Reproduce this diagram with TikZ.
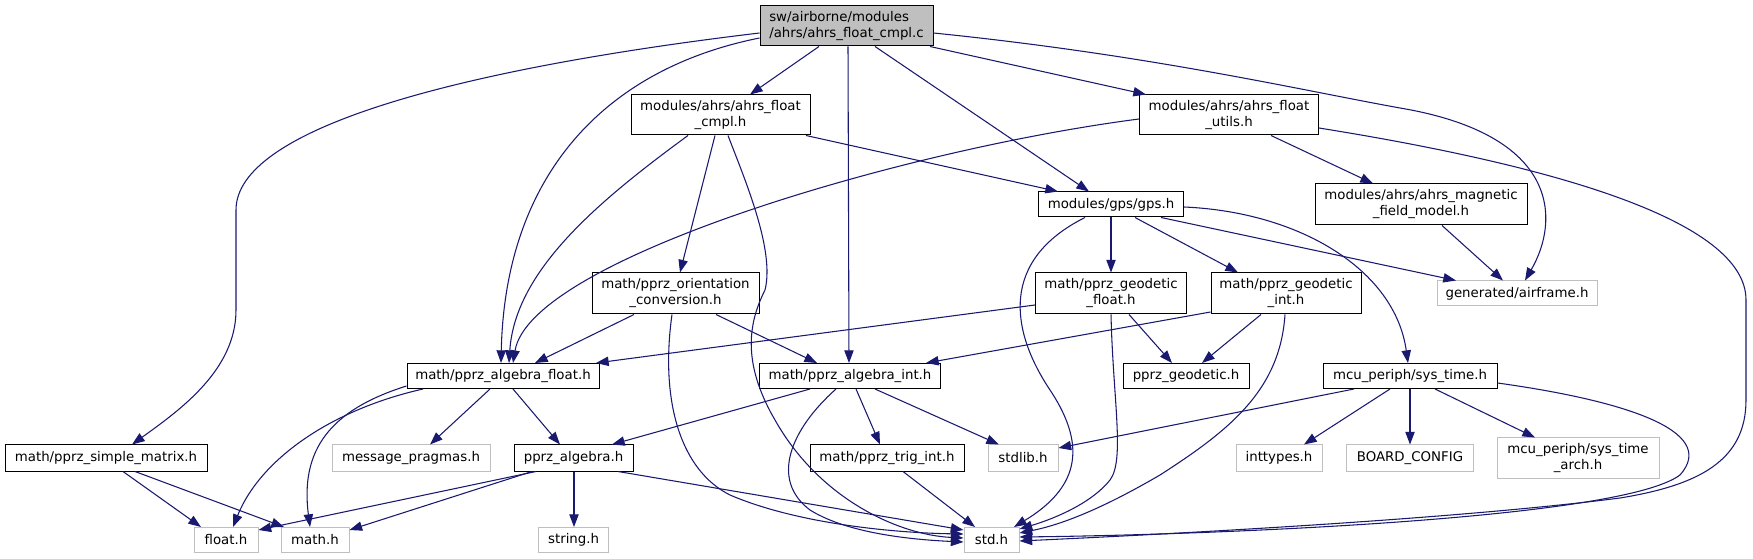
\documentclass[tikz,border=0pt]{standalone}
\usepackage{fontspec}
\setmainfont{DejaVu Sans}
\usetikzlibrary{arrows.meta}
\definecolor{edgec}{HTML}{191970}
\definecolor{grayb}{HTML}{BFBFBF}
\begin{document}
\begin{tikzpicture}[x=0.75pt,y=-0.75pt,
  every node/.style={font=\fontsize{10}{12}\selectfont, inner sep=0pt, align=center},
  box/.style={draw=black, fill=white, line width=0.75pt},
  ext/.style={draw=grayb, fill=white, line width=0.75pt},
  bw/.style={minimum width=#1*0.75pt},
  bh/.style={minimum height=#1*0.75pt},
  dep/.style={draw=edgec, line width=0.8pt, -{Triangle[length=9.5pt,width=7pt]}}]
\useasboundingbox (0,0) rectangle (1753,559);
% nodes
\node[box,bw=173,bh=40,fill=grayb,align=left] (root) at (846.5,26) {sw/airborne/modules\\/ahrs/ahrs\_float\_cmpl.c};
\node[box,bw=179,bh=40] (cmplh) at (720.5,115) {modules/ahrs/ahrs\_float\\\_cmpl.h};
\node[box,bw=179,bh=40] (utils) at (1229,115) {modules/ahrs/ahrs\_float\\\_utils.h};
\node[box,bw=145,bh=25] (gps) at (1111,204.5) {modules/gps/gps.h};
\node[box,bw=212,bh=41] (magnetic) at (1421,204.5) {modules/ahrs/ahrs\_magnetic\\\_field\_model.h};
\node[ext,bw=160,bh=25] (airframe) at (1517,293.5) {generated/airframe.h};
\node[box,bw=167,bh=41] (orient) at (675.5,293.5) {math/pprz\_orientation\\\_conversion.h};
\node[box,bw=151,bh=41] (geofloat) at (1111,293.5) {math/pprz\_geodetic\\\_float.h};
\node[box,bw=150,bh=41] (geoint) at (1286,293.5) {math/pprz\_geodetic\\\_int.h};
\node[box,bw=192,bh=25] (algfloat) at (503,376) {math/pprz\_algebra\_float.h};
\node[box,bw=181,bh=25] (algint) at (850,376) {math/pprz\_algebra\_int.h};
\node[box,bw=126,bh=25] (geodetic) at (1186,376) {pprz\_geodetic.h};
\node[box,bw=174,bh=25] (systime) at (1410,376) {mcu\_periph/sys\_time.h};
\node[box,bw=202,bh=26] (simple) at (106,458) {math/pprz\_simple\_matrix.h};
\node[ext,bw=158,bh=26] (msgprag) at (411,458) {message\_pragmas.h};
\node[box,bw=119,bh=26] (algebra) at (573.5,458) {pprz\_algebra.h};
\node[box,bw=154,bh=26] (trig) at (887,458) {math/pprz\_trig\_int.h};
\node[ext,bw=70,bh=26] (stdlib) at (1023,458) {stdlib.h};
\node[ext,bw=86,bh=26] (inttypes) at (1279,458) {inttypes.h};
\node[ext,bw=127,bh=26] (board) at (1410,458) {BOARD\_CONFIG};
\node[ext,bw=162,bh=40] (arch) at (1578,458) {mcu\_periph/sys\_time\\\_arch.h};
\node[ext,bw=64,bh=25] (float) at (226,540) {float.h};
\node[ext,bw=68,bh=25] (math) at (315,540) {math.h};
\node[ext,bw=70,bh=25] (string) at (573.6,540) {string.h};
\node[ext,bw=55,bh=25] (std) at (991.5,540) {std.h};
% root edges
\draw[dep] (root.west |- 0,33) .. controls (450,70) and (236,130) .. (236,210) -- (236,310) .. controls (236,370) and (180,410) .. (simple.north -| 132,0);
\draw[dep] (root.west |- 0,38) .. controls (600,70) and (505,180) .. (algfloat.north -| 501,0);
\draw[dep] (root.south -| 819,0) -- (cmplh.north -| 750,0);
\draw[dep] (root.south -| 848,0) -- (algint.north -| 849,0);
\draw[dep] (root.south -| 875,0) -- (gps.north -| 1089,0);
\draw[dep] (root.south -| 930,0) -- (utils.north -| 1146,0);
\draw[dep] (root.east |- 0,33) .. controls (1150,55) and (1300,90) .. (1400,108) .. controls (1560,135) and (1560,220) .. (airframe.north -| 1525,0);
% cmpl.h edges
\draw[dep] (cmplh.south -| 688,0) .. controls (600,200) and (515,270) .. (algfloat.north -| 509,0);
\draw[dep] (cmplh.south -| 715,0) -- (orient.north -| 680,0);
\draw[dep] (cmplh.south -| 728,0) .. controls (745,180) and (775,250) .. (765,290) .. controls (750,320) and (740,360) .. (775,420) .. controls (820,500) and (900,535) .. (std.west |- 0,538);
\draw[dep] (cmplh.south -| 806,0) -- (gps.north -| 1058,0);
% utils edges
\draw[dep] (utils.west |- 0,119) .. controls (900,150) and (530,260) .. (algfloat.north -| 513,0);
\draw[dep] (utils.south -| 1271,0) -- (magnetic.north -| 1373,0);
\draw[dep] (utils.east |- 0,128) .. controls (1550,165) and (1746,220) .. (1746,300) -- (1746,400) .. controls (1746,460) and (1700,485) .. (1620,498) .. controls (1450,520) and (1150,535) .. (std.east |- 0,541);
% gps edges
\draw[dep] (gps.south -| 1085,0) .. controls (1000,260) and (1010,330) .. (1050,390) .. controls (1090,450) and (1075,490) .. (std.north -| 1014,0);
\draw[dep] (gps.south -| 1111,0) -- (geofloat.north -| 1111,0);
\draw[dep] (gps.south -| 1135,0) -- (geoint.north -| 1238,0);
\draw[dep] (gps.south -| 1161,0) -- (airframe.north -| 1456,0);
\draw[dep] (gps.east |- 0,207) .. controls (1300,212) and (1395,270) .. (systime.north -| 1408,0);
\draw[dep] (magnetic.south -| 1442,0) -- (airframe.north -| 1503,0);
% geodetic float / int
\draw[dep] (geofloat.west |- 0,305) -- (algfloat.north -| 596,0);
\draw[dep] (geofloat.south -| 1129,0) -- (geodetic.north -| 1172,0);
\draw[dep] (geofloat.south -| 1111,0) .. controls (1113,400) and (1125,460) .. (1110,480) .. controls (1090,505) and (1050,520) .. (std.east |- 0,529);
\draw[dep] (geoint.west |- 0,312) -- (algint.north -| 926,0);
\draw[dep] (geoint.south -| 1261,0) -- (geodetic.north -| 1202,0);
\draw[dep] (geoint.south -| 1285,0) .. controls (1280,390) and (1230,430) .. (1160,475) .. controls (1100,510) and (1060,525) .. (std.east |- 0,533);
% orientation conversion
\draw[dep] (orient.south -| 634,0) -- (algfloat.north -| 535,0);
\draw[dep] (orient.south -| 716,0) -- (algint.north -| 817,0);
\draw[dep] (orient.south -| 672,0) .. controls (660,400) and (680,470) .. (730,495) .. controls (800,525) and (900,533) .. (std.west |- 0,534);
% algebra float
\draw[dep] (algfloat.south -| 423,0) .. controls (330,410) and (260,460) .. (float.north -| 233,0);
\draw[dep] (algfloat.west |- 0,386) .. controls (330,410) and (300,450) .. (math.north -| 310,0);
\draw[dep] (algfloat.south -| 490,0) -- (msgprag.north -| 430,0);
\draw[dep] (algfloat.south -| 513,0) -- (algebra.north -| 560,0);
% algebra int
\draw[dep] (algint.south -| 810,0) -- (algebra.north -| 612,0);
\draw[dep] (algint.south -| 836,0) .. controls (790,430) and (770,480) .. (810,510) .. controls (850,535) and (920,540) .. (std.west |- 0,542);
\draw[dep] (algint.south -| 856,0) -- (trig.north -| 880,0);
\draw[dep] (algint.south -| 875,0) -- (stdlib.north -| 999,0);
% sys_time
\draw[dep] (systime.south -| 1354,0) -- (stdlib.east |- 0,448);
\draw[dep] (systime.south -| 1390,0) -- (inttypes.north -| 1304,0);
\draw[dep] (systime.south -| 1410,0) -- (board.north -| 1410,0);
\draw[dep] (systime.south -| 1435,0) -- (arch.north -| 1535,0);
\draw[dep] (systime.east |- 0,383) .. controls (1620,400) and (1720,430) .. (1680,475) .. controls (1620,520) and (1200,535) .. (std.east |- 0,537);
% simple matrix
\draw[dep] (simple.south -| 123,0) -- (float.north -| 201,0);
\draw[dep] (simple.south -| 135,0) -- (math.north -| 284,0);
% pprz_algebra
\draw[dep] (algebra.south -| 536,0) -- (float.east |- 0,530);
\draw[dep] (algebra.south -| 532,0) -- (math.east |- 0,530);
\draw[dep] (algebra.south -| 574,0) -- (string.north -| 574,0);
\draw[dep] (algebra.south -| 618,0) -- (std.west |- 0,530);
% trig
\draw[dep] (trig.south -| 903,0) -- (std.north -| 975,0);
\end{tikzpicture}
\end{document}
